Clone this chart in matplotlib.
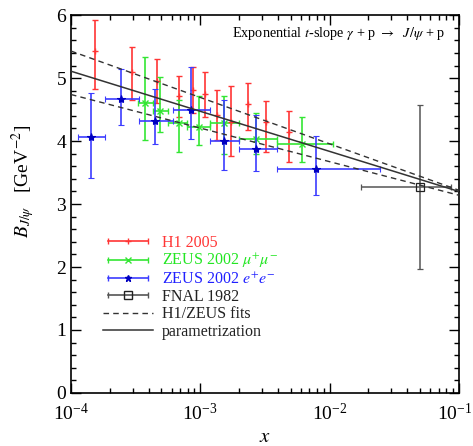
import matplotlib
matplotlib.use("Agg")
import matplotlib.pyplot as plt
import matplotlib.transforms as mtransforms
import numpy as np
from matplotlib.lines import Line2D
from matplotlib.legend_handler import HandlerLine2D, HandlerTuple
from matplotlib.ticker import LogLocator, MultipleLocator, NullFormatter

plt.rcParams['font.family'] = ['Liberation Serif', 'DejaVu Serif']
plt.rcParams['mathtext.fontset'] = 'stix'

# ---- data ----
h1_x = [1.53e-4, 2.95e-4, 4.6e-4, 6.8e-4, 8.8e-4, 1.08e-3, 1.35e-3, 1.74e-3, 2.33e-3, 3.23e-3, 4.9e-3]
h1_B = [5.43, 5.10, 4.96, 4.72, 4.81, 4.74, 4.42, 4.31, 4.59, 4.31, 4.15]
h1_lo = [4.83, 4.66, 4.61, 4.38, 4.44, 4.38, 4.02, 3.76, 4.18, 3.82, 3.67]
h1_hi = [5.92, 5.49, 5.31, 5.03, 5.18, 5.10, 4.81, 4.87, 4.93, 4.64, 4.48]

zmm_x = [3.75e-4, 4.9e-4, 6.8e-4, 9.8e-4, 1.52e-3, 2.7e-3, 6.1e-3]
zmm_xlo = [3.33e-4, 4.35e-4, 5.65e-4, 7.9e-4, 1.2e-3, 1.98e-3, 3.93e-3]
zmm_xhi = [4.35e-4, 5.65e-4, 7.9e-4, 1.2e-3, 1.98e-3, 3.93e-3, 1.07e-2]
zmm_B = [4.60, 4.48, 4.28, 4.23, 4.29, 4.03, 3.95]
zmm_lo = [4.02, 4.15, 3.82, 3.94, 3.79, 3.80, 3.67]
zmm_hi = [5.34, 5.02, 4.65, 4.71, 4.71, 4.45, 4.38]

zee_x = [1.43e-4, 2.43e-4, 4.47e-4, 8.5e-4, 1.52e-3, 2.7e-3, 7.9e-3]
zee_xlo = [1.14e-4, 1.84e-4, 3.37e-4, 6.2e-4, 1.2e-3, 1.98e-3, 3.93e-3]
zee_xhi = [1.84e-4, 3.37e-4, 6.2e-4, 1.2e-3, 1.98e-3, 3.93e-3, 2.44e-2]
zee_B = [4.07, 4.67, 4.32, 4.49, 4.00, 3.87, 3.56]
zee_lo = [3.42, 4.25, 3.95, 4.03, 3.54, 3.52, 3.15]
zee_hi = [4.77, 5.15, 4.82, 5.18, 4.65, 4.41, 4.08]

fnal_x = [0.05]
fnal_xlo = [0.0174]
fnal_xhi = [0.0867]
fnal_B = [3.27]
fnal_lo = [1.97]
fnal_hi = [4.58]

line_x = [1e-4, 1e-1]
param_B = [5.11, 3.20]
fit_upper_B = [5.43, 3.22]
fit_lower_B = [4.74, 3.14]

labels = ['H1 2005', r'ZEUS 2002 $\mu^{+}\mu^{-}$', r'ZEUS 2002 $e^{+}e^{-}$',
          'FNAL 1982', 'H1/ZEUS fits', 'parametrization']

c_red = '#ff3535'
c_green = '#33e633'
c_blue = '#3c3cff'
c_black = '#555555'

fig = plt.figure(figsize=(4.73, 4.46), dpi=100)
ax = fig.add_axes([0.150, 0.119, 0.820, 0.847])

def yerr(B, lo, hi):
    B = np.array(B); return [B - np.array(lo), np.array(hi) - B]

def xerr(x, lo, hi):
    x = np.array(x); return [x - np.array(lo), np.array(hi) - x]

ax.plot(line_x, fit_upper_B, ls=(0, (4, 3)), color='#333333', lw=1.0, zorder=5)
ax.plot(line_x, fit_lower_B, ls=(0, (4, 3)), color='#333333', lw=1.0, zorder=5)
ax.plot(line_x, param_B, ls='-', color='#333333', lw=1.1, zorder=5)

ax.errorbar(h1_x, h1_B, yerr=yerr(h1_B, h1_lo, h1_hi), fmt='+', color=c_red,
            ms=5, mew=1.0, elinewidth=1.2, capsize=2.5, capthick=1.0, zorder=3)
ax.errorbar(zmm_x, zmm_B, yerr=yerr(zmm_B, zmm_lo, zmm_hi), xerr=xerr(zmm_x, zmm_xlo, zmm_xhi),
            fmt='x', color=c_green, ms=5, mew=1.0, elinewidth=1.2, capsize=2.5, capthick=1.0, zorder=3)
ax.errorbar(zee_x, zee_B, yerr=yerr(zee_B, zee_lo, zee_hi), xerr=xerr(zee_x, zee_xlo, zee_xhi),
            fmt='*', color=c_blue, mec='#0000c0', mfc='#0000c0', ms=6, mew=0.8,
            elinewidth=1.2, capsize=2.5, capthick=1.0, zorder=4)
ax.errorbar(fnal_x, fnal_B, yerr=yerr(fnal_B, fnal_lo, fnal_hi), xerr=xerr(fnal_x, fnal_xlo, fnal_xhi),
            fmt='s', color=c_black, mfc='none', mec='#222222', ms=6, mew=0.9,
            elinewidth=1.1, capsize=2.5, capthick=1.0, zorder=4)

ax.set_xscale('log')
ax.set_xlim(1e-4, 1e-1)
ax.set_ylim(0, 6)
ax.yaxis.set_major_locator(MultipleLocator(1))
ax.yaxis.set_minor_locator(MultipleLocator(0.2))
ax.xaxis.set_major_locator(LogLocator(base=10, numticks=10))
ax.xaxis.set_minor_locator(LogLocator(base=10, subs=np.arange(2, 10), numticks=20))
ax.xaxis.set_minor_formatter(NullFormatter())
ax.tick_params(which='both', direction='in', top=True, right=True, width=1.0, labelsize=14)
ax.tick_params(which='major', length=7)
ax.tick_params(which='minor', length=3.5)
ax.tick_params(axis='x', pad=7)
for s in ax.spines.values():
    s.set_linewidth(1.2)

ax.set_xlabel(r'$x$', fontsize=15)
ax.xaxis.set_label_coords(0.50, -0.092)
ax.set_ylabel(r'$B_{J/\psi}$   [GeV$^{-2}$]', fontsize=14)
ax.yaxis.set_label_coords(-0.088, 0.56)

ax.text(0.965, 0.952, r'Exponential $t$-slope $\gamma$ + p $\rightarrow$  $J/\psi$ + p',
        transform=ax.transAxes, ha='right', va='center', fontsize=10.3)

# keep the rightmost x tick label inside the figure
fig.canvas.draw()
xlabels = ax.get_xticklabels()
shift = mtransforms.ScaledTranslation(-4 / 100, 0, fig.dpi_scale_trans)
for lab in xlabels:
    if lab.get_position()[0] >= 0.099:
        lab.set_transform(lab.get_transform() + shift)

# legend handles
def cap_line(c, mk='|'):
    return Line2D([], [], color=c, lw=1.2, marker=mk, ms=5, mew=1.0)

handler_map = {}
handles = []
for c, mk, mfc in [(c_red, '+', c_red), (c_green, 'x', c_green), (c_blue, '*', '#0000c0'), (c_black, 's', 'none')]:
    cl = cap_line(c)
    cen = Line2D([], [], color=c, lw=0, marker=mk, ms=5 if mk != 's' else 5.5,
                 mfc=mfc, mec=(mfc if mk == '*' else ('#222222' if mk == 's' else c)), mew=1.0)
    handler_map[cl] = HandlerLine2D(numpoints=2)
    handler_map[cen] = HandlerLine2D(numpoints=1)
    handles.append((cl, cen))
handles.append(Line2D([], [], color='#333333', ls=(0, (4, 3)), lw=1.0))
handles.append(Line2D([], [], color='#333333', ls='-', lw=1.1))
handler_map[tuple] = HandlerTuple(ndivide=1, pad=0)

leg = ax.legend(handles, labels, handler_map=handler_map, loc='upper left',
                bbox_to_anchor=(0.054, 0.448), frameon=False, fontsize=11.5,
                handlelength=3.1, handletextpad=0.6, labelspacing=0.08, borderpad=0.2)
text_colors = [c_red, '#22e622', '#2020ff', '#222222', '#222222', '#222222']
for t, col in zip(leg.get_texts(), text_colors):
    t.set_color(col)

fig.savefig('out.png', dpi=100)
